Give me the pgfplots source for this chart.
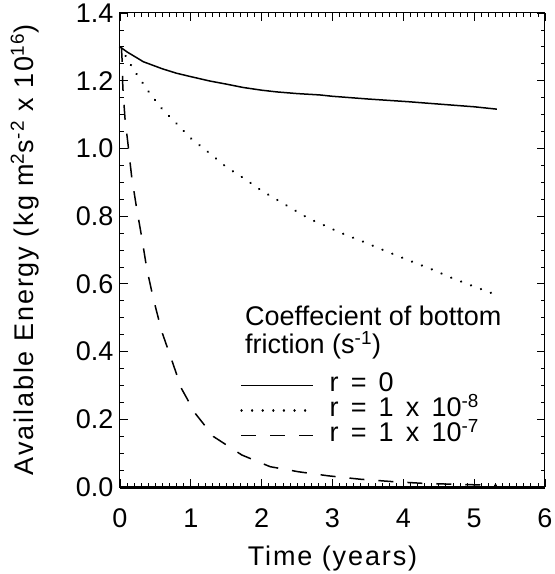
\documentclass[border=0pt]{standalone}
\usepackage{fontspec}
\setmainfont{Liberation Sans}
\usepackage{pgfplots}
\pgfplotsset{compat=1.18}
\newcommand\bigfont{\fontsize{27}{32}\selectfont}
\newcommand\s{\hspace{0.45em}}
\begin{document}
\begin{tikzpicture}
\useasboundingbox (-120pt,-87pt) rectangle (435pt,487pt);
\begin{axis}[
  scale only axis, width=425pt, height=474pt,
  xmin=0, xmax=6, ymin=0, ymax=1.4,
  xtick={0,1,2,3,4,5,6},
  ytick={0,0.2,0.4,0.6,0.8,1.0,1.2,1.4},
  minor x tick num=9, minor y tick num=3,
  major tick length=8pt, minor tick length=4pt,
  tick style={black, line width=0.8pt},
  axis line style={line width=1pt},
  tick label style={font=\bigfont},
  /pgf/number format/assume math mode=true,
  yticklabel style={/pgf/number format/fixed, /pgf/number format/fixed zerofill, /pgf/number format/precision=1, xshift=-3pt},
  xticklabel style={yshift=-18pt},
  xlabel={\addfontfeatures{LetterSpace=7}Time (years)},
  ylabel={\addfontfeatures{LetterSpace=7}Available Energy (kg m\textsuperscript{2}s\textsuperscript{-2} x 10\textsuperscript{16})},
  xlabel style={at={(axis description cs:0.5,0)}, anchor=base, yshift=-78pt, font=\bigfont},
  ylabel style={at={(axis description cs:-0.2047,0.5)}, anchor=base, rotate=0, font=\bigfont},
  clip=false,
  legend image code/.code={\draw[#1] (0pt,0pt) -- (72pt,0pt);},
  legend cell align=left,
  legend style={draw=none, fill=none, at={(axis cs:1.695,0.33)}, anchor=north west,
    inner sep=0pt, row sep=5pt, column sep=15pt,
    nodes={inner sep=0pt, text height=16pt, text depth=4pt, font=\bigfont}},
]
\addplot[black, line width=1.5pt] coordinates {
(0,1.30)(0.1,1.285)(0.33,1.256)(0.6,1.235)(0.8,1.222)(1.0,1.212)(1.27,1.199)(1.5,1.19)(1.74,1.180)(2.0,1.172)(2.21,1.167)(2.5,1.162)(2.82,1.158)(3.0,1.154)(3.5,1.146)(4.07,1.138)(4.5,1.131)(5.0,1.123)(5.32,1.116)};
\addlegendentry{r\s=\s0}
\addplot[black, line width=2.4pt, line cap=round, dash pattern=on 0.1pt off 10.5pt] coordinates {
(0,1.30)(0.085,1.271)(0.2,1.23)(0.42,1.163)(0.6,1.115)(0.82,1.069)(1.0,1.03)(1.27,0.985)(1.5,0.945)(1.77,0.909)(2.0,0.875)(2.3,0.838)(2.68,0.791)(2.82,0.779)(3.1,0.752)(3.44,0.724)(3.75,0.697)(4.07,0.670)(4.4,0.643)(4.7,0.616)(5.0,0.592)(5.32,0.567)};
\addlegendentry{r\s=\s1\s x\s10\textsuperscript{-8}}
\addplot[black, line width=1.5pt, dash pattern=on 15pt off 14pt] coordinates {
(0.02,1.30)(0.03,1.26)(0.04,1.18)(0.07,1.09)(0.12,1.0)(0.165,0.916)(0.235,0.823)(0.31,0.734)(0.377,0.646)(0.47,0.557)(0.59,0.459)(0.73,0.375)(0.87,0.29)(1.06,0.218)(1.32,0.149)(1.72,0.0945)(2.12,0.060)(2.52,0.045)(2.94,0.033)(3.39,0.023)(3.84,0.016)(4.26,0.011)(4.71,0.008)(5.11,0.006)(5.32,0.005)};
\addlegendentry{r\s=\s1\s x\s10\textsuperscript{-7}}
\addplot[black, line width=3pt, forget plot] coordinates {(0,0)(6,0)};
\node[anchor=base west, inner sep=0pt, align=left, font=\fontsize{27}{28}\selectfont] at (axis cs:1.765,0.395) {Coeffecient of bottom\\friction (s\textsuperscript{-1})};
\end{axis}
\end{tikzpicture}
\end{document}
